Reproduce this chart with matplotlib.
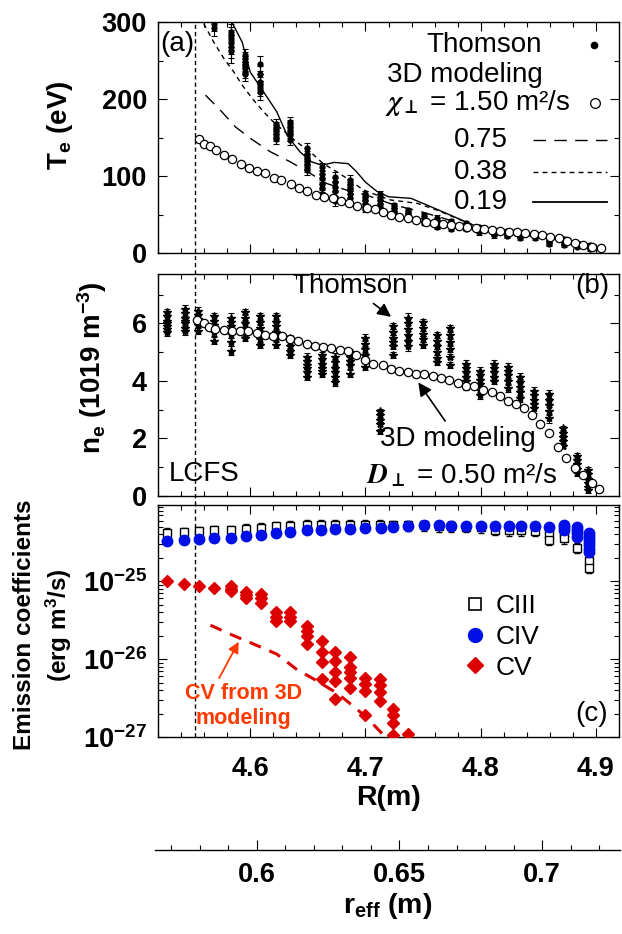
import matplotlib
matplotlib.use('Agg')
import matplotlib.pyplot as plt
import matplotlib.transforms as mtransforms
from matplotlib.lines import Line2D
from matplotlib.ticker import MultipleLocator, LogLocator, NullFormatter, FixedLocator

plt.rcParams['font.family'] = ['Liberation Sans', 'DejaVu Sans']
plt.rcParams['font.weight'] = 'bold'
plt.rcParams['axes.labelweight'] = 'bold'
plt.rcParams['mathtext.fontset'] = 'custom'
plt.rcParams['mathtext.rm'] = 'Liberation Sans:bold'
plt.rcParams['mathtext.bf'] = 'Liberation Sans:bold'
plt.rcParams['mathtext.it'] = 'Liberation Sans:italic:bold'
plt.rcParams['axes.linewidth'] = 1.0

TickSize = 19.5
LabelSize = 20
TextSize = 20

BLUE = '#0010e6'
RED = '#dd0000'
ORANGE = '#ff3a00'

R_LCFS = 4.552

# ---------------- (a) electron temperature ----------------
te_R = [4.569, 4.583, 4.5957, 4.6086, 4.6225, 4.6345, 4.649, 4.6627, 4.674,
        4.687, 4.700, 4.713, 4.7245, 4.737, 4.751, 4.7625, 4.774, 4.787,
        4.7985, 4.8115, 4.823, 4.8345, 4.8474, 4.859, 4.872, 4.8834, 4.8949]
te_pts = [[298, 292],
          [287, 283, 279, 274, 268, 262],
          [257, 253, 248, 244, 240, 235, 232],
          [246, 233, 222, 218, 214, 209],
          [168, 164, 160, 155, 151, 148],
          [170, 166, 162, 157, 153, 147],
          [136, 129, 125, 121, 116, 112, 108],
          [112, 103, 97, 90, 84, 77],
          [99, 92, 86, 80, 73, 67],
          [95, 90, 86, 82, 77, 71],
          [77, 73, 69, 64, 60, 57],
          [77, 73, 69, 64, 60],
          [62, 58, 55, 52],
          [56, 52, 49, 46],
          [49, 45, 42, 39],
          [46, 42, 39, 36, 34],
          [41, 38, 35, 31],
          [39, 36, 33, 31],
          [34, 31, 29, 27],
          [30, 27, 25, 23],
          [28, 26, 24, 22],
          [26, 24, 22, 20],
          [24, 22, 20],
          [19, 16, 14, 12],
          [18, 15, 13, 11],
          [13, 11, 9, 8],
          [11, 9, 7, 5]]
te_err = [10, 15, 8, 10, 6, 7, 7, 5, 6, 6, 4, 4, 3, 3, 3, 3, 3, 3,
          3, 3, 3, 3, 3, 3, 3, 2, 2]

# 3D modeling, chi_perp = 1.50 m2/s
mod150_R = [4.556, 4.560, 4.565, 4.570, 4.577, 4.584, 4.592, 4.599, 4.606, 4.613,
            4.621, 4.627, 4.635, 4.642, 4.649, 4.657, 4.664, 4.672, 4.679, 4.686,
            4.693, 4.701, 4.708, 4.715, 4.722, 4.7295, 4.7367, 4.744, 4.7525, 4.7597,
            4.767, 4.774, 4.781, 4.788, 4.7956, 4.803, 4.810, 4.817, 4.8245, 4.8316,
            4.8388, 4.846, 4.853, 4.860, 4.8676, 4.875, 4.882, 4.889, 4.8963, 4.904]
mod150_T = [148, 142, 139, 134, 127, 122, 115, 110, 106.5, 103.5,
            98, 95, 90, 85, 80, 75, 73, 71, 67.5, 64.5,
            61.5, 59, 57, 53.5, 49.5, 47, 45, 43, 40.7, 39.4,
            37.7, 36.4, 35, 33.8, 32, 30.8, 30, 29, 27.7, 26.8,
            25.5, 24.2, 23, 20.8, 19, 16, 13.4, 10.4, 8.2, 6]

mod075_R = [4.5612, 4.574, 4.587, 4.600, 4.6173, 4.6345, 4.652, 4.666, 4.6834,
            4.7007, 4.725, 4.748, 4.768, 4.7856, 4.800, 4.830, 4.870, 4.900]
mod075_T = [205, 185.7, 164, 149, 131.6, 118.6, 103.5, 90.5, 81.8,
            75.3, 62.3, 53.7, 45, 36.4, 31, 25, 17, 8]

mod038_R = [4.5597, 4.5683, 4.577, 4.5856, 4.594, 4.6029, 4.6115, 4.620, 4.630,
            4.640, 4.652, 4.663, 4.675, 4.686, 4.698, 4.712, 4.722, 4.745, 4.762,
            4.7826, 4.800, 4.830, 4.870, 4.900]
mod038_T = [298, 274, 253, 235.5, 216, 198.7, 183.5, 170.5, 157.5,
            144.5, 131.6, 116.5, 105.6, 94.8, 82, 74, 68.8, 64.5, 55.8,
            42.9, 33, 25, 18, 8]

mod019_R = [4.583, 4.593, 4.600, 4.6115, 4.623, 4.632, 4.643, 4.653, 4.662,
            4.673, 4.685, 4.692, 4.700, 4.710, 4.720, 4.7395, 4.757, 4.777,
            4.797, 4.812, 4.843, 4.872, 4.900]
mod019_T = [303, 274, 235, 209.5, 183.5, 153, 131.6, 118.6, 114,
            117.7, 116, 106, 92, 80, 73, 71, 60, 47,
            34, 29, 24, 18, 8]

# ---------------- (b) electron density ----------------
ne_R = [4.528, 4.543, 4.555, 4.5683, 4.5833, 4.5957, 4.6086, 4.6225, 4.6345,
        4.649, 4.6624, 4.674, 4.6863, 4.6993, 4.7128, 4.7237, 4.7373, 4.7502,
        4.7625, 4.7735, 4.787, 4.7994, 4.8115, 4.8238, 4.8345, 4.846, 4.859,
        4.8713, 4.8834, 4.8935]
ne_pts = [[6.4, 6.25, 6.1, 6.0, 5.9, 5.8, 5.7],
          [6.5, 6.35, 6.2, 6.1, 6.0, 5.85, 5.75],
          [6.45, 6.3, 6.15, 6.05, 5.95, 5.75],
          [6.25, 6.1, 5.95, 5.85, 5.7, 5.4],
          [6.2, 6.05, 5.9, 5.8, 5.65, 5.35, 5.05],
          [6.4, 6.2, 6.0, 5.85, 5.7, 5.5],
          [6.25, 6.05, 5.85, 5.65, 5.45, 5.25],
          [6.25, 6.05, 5.9, 5.7, 5.5, 5.25],
          [5.5, 5.35, 5.2, 5.05, 4.9],
          [4.85, 4.7, 4.55, 4.45, 4.3, 4.15],
          [4.9, 4.75, 4.6, 4.45, 4.35, 4.25],
          [4.85, 4.65, 4.45, 4.3, 4.15, 3.95],
          [5.0, 4.85, 4.7, 4.55, 4.25],
          [5.5, 5.3, 5.1, 4.9, 4.75, 4.5],
          [2.95, 2.8, 2.65, 2.5, 2.25],
          [5.9, 5.7, 5.5, 5.35, 5.2, 4.9],
          [6.2, 6.0, 5.8, 5.6, 5.4, 5.2],
          [6.05, 5.85, 5.65, 5.45, 5.25],
          [5.6, 5.4, 5.2, 5.0, 4.8, 4.65],
          [5.85, 5.6, 5.35, 5.1, 4.85, 4.55],
          [4.6, 4.45, 4.3, 4.15, 4.0, 3.8],
          [4.35, 4.2, 4.05, 3.9, 3.7, 3.5],
          [4.6, 4.45, 4.3, 4.15, 4.0],
          [4.5, 4.35, 4.2, 4.0, 3.75],
          [4.15, 3.95, 3.8, 3.6, 3.4],
          [3.65, 3.5, 3.35, 3.2, 3.05],
          [3.55, 3.35, 3.15, 2.95, 2.7],
          [2.35, 2.2, 2.05, 1.9, 1.75],
          [1.4, 1.25, 1.1, 0.95, 0.8],
          [0.9, 0.75, 0.6, 0.45, 0.3, 0.2]]
ne_err = [0.12, 0.15, 0.12, 0.12, 0.15, 0.12, 0.12, 0.12, 0.1, 0.12,
          0.12, 0.12, 0.12, 0.12, 0.08, 0.1, 0.15, 0.1, 0.1, 0.1,
          0.12, 0.12, 0.12, 0.12, 0.12, 0.15, 0.15, 0.08, 0.1, 0.1]

# 3D modeling, D_perp = 0.50 m2/s
modne_R = [4.554, 4.5597, 4.564, 4.5698, 4.577, 4.584, 4.5914, 4.5985, 4.6057, 4.613,
           4.620, 4.6273, 4.6345, 4.6417, 4.649, 4.656, 4.6633, 4.6705, 4.6777, 4.685,
           4.692, 4.6993, 4.7065, 4.715, 4.7222, 4.7295, 4.7367, 4.744, 4.751, 4.7582,
           4.7654, 4.7727, 4.780, 4.787, 4.7942, 4.8022, 4.810, 4.8167, 4.8236, 4.831,
           4.8374, 4.8446, 4.8517, 4.8595, 4.8667, 4.8742, 4.8814, 4.8886, 4.8963, 4.903]
modne_n = [6.13, 6.02, 5.88, 5.81, 5.76, 5.73, 5.73, 5.73, 5.67, 5.61,
           5.57, 5.55, 5.46, 5.38, 5.30, 5.23, 5.18, 5.13, 5.09, 5.03,
           4.91, 4.74, 4.60, 4.55, 4.42, 4.36, 4.30, 4.24, 4.24, 4.16,
           4.10, 4.04, 3.93, 3.84, 3.81, 3.69, 3.63, 3.49, 3.31, 3.19,
           3.06, 2.82, 2.51, 2.18, 1.72, 1.33, 0.99, 0.73, 0.44, 0.24]

# ---------------- (c) emission coefficients ----------------
ciii_R = [4.528, 4.5424, 4.556, 4.569, 4.5833, 4.5962, 4.6092, 4.6225, 4.6345, 4.649,
          4.661, 4.674, 4.6869, 4.700, 4.713, 4.7237, 4.7373, 4.751, 4.7634, 4.774,
          4.787, 4.800, 4.812, 4.8245, 4.835, 4.8474, 4.8595, 4.8595, 4.872, 4.872,
          4.8834, 4.894, 4.894]
ciii_val = [4.15e-25, 4.23e-25, 4.36e-25, 4.48e-25, 4.48e-25, 4.67e-25, 4.81e-25, 5.04e-25,
            5.14e-25, 5.30e-25, 5.30e-25, 5.30e-25, 5.30e-25, 5.30e-25, 5.30e-25, 5.2e-25,
            5.2e-25, 5.2e-25, 5.1e-25, 5.1e-25, 5.0e-25, 4.9e-25, 4.6e-25, 4.5e-25,
            4.5e-25, 4.45e-25, 4.0e-25, 3.4e-25, 4.2e-25, 3.55e-25, 2.7e-25, 1.8e-25, 1.48e-25]

civ_R = [4.528, 4.5424, 4.556, 4.569, 4.5833, 4.5962, 4.6092, 4.6225, 4.6345, 4.649,
         4.661, 4.674, 4.6869, 4.700, 4.7136, 4.7237, 4.7373, 4.751, 4.7634, 4.774,
         4.787, 4.800, 4.812, 4.8245, 4.835, 4.8474, 4.8595, 4.872, 4.872, 4.872,
         4.8834, 4.8834, 4.8834, 4.8834, 4.894, 4.894, 4.894, 4.894, 4.894, 4.894, 4.894]
civ_val = [3.31e-25, 3.41e-25, 3.51e-25, 3.58e-25, 3.58e-25, 3.76e-25, 3.86e-25, 4.15e-25,
           4.23e-25, 4.48e-25, 4.57e-25, 4.68e-25, 4.71e-25, 4.81e-25, 4.81e-25, 4.95e-25,
           5.14e-25, 5.19e-25, 5.19e-25, 5.14e-25, 5.14e-25, 5.14e-25, 5.14e-25, 5.04e-25,
           5.04e-25, 5.04e-25, 4.95e-25, 5.2e-25, 4.95e-25, 4.6e-25,
           4.9e-25, 4.5e-25, 4.1e-25, 3.7e-25,
           4.1e-25, 3.8e-25, 3.5e-25, 3.2e-25, 2.9e-25, 2.6e-25, 2.35e-25]

cv_R = [4.528, 4.5424, 4.556, 4.569, 4.5833, 4.5833, 4.5833, 4.5962, 4.5962, 4.5962,
        4.6092, 4.6092, 4.6092, 4.6225, 4.6225, 4.6225, 4.6345, 4.6345, 4.6345,
        4.649, 4.649, 4.649, 4.649, 4.6624, 4.6624, 4.6624, 4.6624,
        4.674, 4.674, 4.674, 4.674, 4.674, 4.6863, 4.6863, 4.6863, 4.6863, 4.6863,
        4.6993, 4.6993, 4.6993, 4.6993, 4.7128, 4.7128, 4.7128, 4.7128,
        4.7237, 4.7237, 4.7237, 4.7237, 4.7373]
cv_val = [1.0e-25, 9.3e-26, 8.7e-26, 8.2e-26, 8.7e-26, 8.0e-26, 7.4e-26, 7.2e-26, 6.6e-26, 6.0e-26,
          6.8e-26, 6.0e-26, 5.3e-26, 4.0e-26, 3.5e-26, 3.1e-26, 4.0e-26, 3.5e-26, 3.1e-26,
          2.66e-26, 2.29e-26, 2.0e-26, 1.55e-26, 1.71e-26, 1.24e-26, 9.1e-27, 5.6e-27,
          1.22e-26, 9.5e-27, 6.8e-27, 5.3e-27, 3.1e-27, 1.05e-26, 7.8e-27, 6.8e-27, 5.8e-27, 4.2e-27,
          5.8e-27, 4.8e-27, 3.9e-27, 1.9e-27, 5.6e-27, 4.6e-27, 3.8e-27, 2.9e-27,
          2.3e-27, 1.9e-27, 1.5e-27, 1.05e-27, 1.1e-27]

# CV from the 3D modeling
cvmod_R = [4.5655, 4.5856, 4.600, 4.623, 4.6402, 4.6575, 4.676, 4.6892, 4.7007, 4.7122, 4.720]
cvmod_val = [2.72e-26, 2.0e-26, 1.63e-26, 1.16e-26, 7.4e-27, 5.3e-27, 3.6e-27, 2.5e-27,
             1.8e-27, 1.2e-27, 8.9e-28]

R_ticks = [4.6, 4.7, 4.8, 4.9]
reff_ticks = [0.6, 0.65, 0.7]

#%%

fig = plt.figure(figsize=(6.22, 9.34), dpi=100)
W, H = 622.0, 934.0
L, Rgt = 158, 619

def box(top, bot):
    return [L / W, 1 - bot / H, (Rgt - L) / W, (bot - top) / H]

axA = fig.add_axes(box(22, 253))
axB = fig.add_axes(box(274, 496))
axC = fig.add_axes(box(505, 737))

for ax in (axA, axB, axC):
    ax.set_xlim(4.52, 4.92)
    ax.xaxis.set_major_locator(FixedLocator(R_ticks))
    ax.xaxis.set_minor_locator(MultipleLocator(0.02))
    ax.tick_params(which='both', direction='in', top=True, right=True,
                   width=0.8, labelsize=TickSize)
    ax.tick_params(which='major', length=6.5, pad=8)
    ax.tick_params(which='minor', length=3.5)

axA.tick_params(labelbottom=False)
axB.tick_params(labelbottom=False)
axC.tick_params(axis='x', which='major', pad=14)

# separatrix through all panels
for ax, extra in ((axA, 21 / 231), (axB, 9 / 222), (axC, 0)):
    ax.axvline(R_LCFS, ymin=-extra, ymax=1, color='k', lw=1.0,
               dashes=(3, 2.2), clip_on=False, zorder=1)

# --- (a)
for R, vals, err in zip(te_R, te_pts, te_err):
    axA.errorbar([R] * len(vals), vals, yerr=err, fmt='o', ms=3.5, color='k',
                 elinewidth=0.8, capsize=2.5, capthick=0.8, zorder=3)
axA.plot(mod019_R, mod019_T, '-', color='k', lw=1.0, zorder=2)
axA.plot(mod038_R, mod038_T, color='k', lw=1.0, dashes=(3.5, 3), zorder=2)
axA.plot(mod075_R, mod075_T, color='k', lw=1.0, dashes=(9, 6), zorder=2)
axA.plot(mod150_R, mod150_T, 'o', ms=6, mfc='white', mec='k', mew=0.9, zorder=4)
axA.set_ylim(0, 300)
axA.yaxis.set_major_locator(MultipleLocator(100))
axA.yaxis.set_minor_locator(MultipleLocator(50))
axA.set_ylabel(r'T$_\mathdefault{e}$ (eV)', fontsize=LabelSize, va='center')
axA.yaxis.set_label_coords(-0.2126, 0.554)

tA = axA.transAxes
axA.text(0.004, 0.905, '(a)', transform=tA, ha='left', va='center',
         fontsize=TextSize, fontweight='normal')
axA.text(0.833, 0.900, 'Thomson', transform=tA, ha='right', va='center',
         fontsize=TextSize, fontweight='normal')
axA.text(0.835, 0.771, '3D modeling', transform=tA, ha='right', va='center',
         fontsize=TextSize, fontweight='normal')
axA.text(0.894, 0.649, r'$\chi_{\bot}$ = 1.50 m²/s', transform=tA,
         ha='right', va='center', fontsize=TextSize, fontweight='normal',
         math_fontfamily='stix')
for y, lab in ((0.489, '0.75'), (0.351, '0.38'), (0.221, '0.19')):
    axA.text(0.759, y, lab, transform=tA, ha='right', va='center',
             fontsize=TextSize, fontweight='normal')

# legend keys
axA.add_line(Line2D([0.946], [0.900], transform=tA, marker='o', ms=4.5, color='k', ls='none'))
axA.add_line(Line2D([0.948], [0.649], transform=tA, marker='o', ms=7, mfc='white',
                    mec='k', mew=0.9, ls='none'))
axA.add_line(Line2D([0.813, 0.974], [0.489, 0.489], transform=tA, color='k', lw=1.0,
                    dashes=(9, 6)))
axA.add_line(Line2D([0.813, 0.974], [0.351, 0.351], transform=tA, color='k', lw=1.0,
                    dashes=(3.5, 3)))
axA.add_line(Line2D([0.813, 0.974], [0.221, 0.221], transform=tA, color='k', lw=1.3))

# --- (b)
for R, vals, err in zip(ne_R, ne_pts, ne_err):
    axB.errorbar([R] * len(vals), vals, yerr=err, fmt='*', ms=6, color='k',
                 elinewidth=0.8, capsize=2.5, capthick=0.8, zorder=3)
axB.plot(modne_R, modne_n, 'o', ms=6, mfc='white', mec='k', mew=0.9, zorder=4)
axB.set_ylim(0, 7.72)
axB.yaxis.set_major_locator(MultipleLocator(2))
axB.yaxis.set_minor_locator(MultipleLocator(1))
axB.set_ylabel(r'n$_\mathdefault{e}$ (1019 m$^\mathdefault{-3}$)', fontsize=LabelSize,
               va='center')
axB.yaxis.set_label_coords(-0.143, 0.577)

arrow_k = dict(arrowstyle='-|>', color='k', lw=1.2, mutation_scale=20, shrinkA=2, shrinkB=0)
axB.annotate('Thomson', xy=(4.7222, 6.23), xytext=(4.687, 7.30), ha='center', va='center',
             fontsize=TextSize, fontweight='normal', arrowprops=arrow_k)
axB.annotate('3D modeling', xy=(4.7459, 3.95), xytext=(4.780, 1.98), ha='center', va='center',
             fontsize=TextSize, fontweight='normal', arrowprops=arrow_k)
axB.text(4.7833, 0.72, r'$D_{\bot}$ = 0.50 m²/s', ha='center', va='center',
         fontsize=TextSize, fontweight='normal', math_fontfamily='stix')
axB.text(4.5597, 0.78, 'LCFS', ha='center', va='center', fontsize=TextSize,
         fontweight='normal')
axB.text(0.98, 0.948, '(b)', transform=axB.transAxes, ha='right', va='center',
         fontsize=TextSize, fontweight='normal')

# --- (c)
axC.set_yscale('log')
axC.errorbar(ciii_R, ciii_val, yerr=[0.15 * v for v in ciii_val], fmt='s', ms=5.5,
             mfc='white', mec='k', mew=1.0, ecolor='k', elinewidth=0.8, capsize=2.5,
             capthick=0.8, zorder=2)
axC.plot(civ_R, civ_val, 'o', ms=7.5, color=BLUE, zorder=3)
axC.plot(cv_R, cv_val, 'D', ms=6.5, color=RED, zorder=3)
axC.plot(cvmod_R, cvmod_val, color=RED, lw=2.2, dashes=(4, 3), zorder=2)
axC.set_ylim(1e-27, 9.5e-25)
axC.yaxis.set_major_locator(LogLocator(base=10))
axC.yaxis.set_minor_locator(LogLocator(base=10, subs=range(2, 10)))
axC.yaxis.set_minor_formatter(NullFormatter())
axC.set_ylabel('Emission coefficients\n' + r'(erg m$^\mathdefault{3}$/s)', fontsize=17.5,
               va='center', linespacing=1.35)
axC.yaxis.set_label_coords(-0.249, 0.483)
axC.set_xlabel('R(m)', fontsize=20.5, va='center')
axC.xaxis.set_label_coords(0.5, -0.263)

axC.annotate('CV from 3D\nmodeling', xy=(4.590, 1.67e-26), xytext=(4.594, 2.5e-27),
             ha='center', va='center', fontsize=15.5, color=ORANGE, linespacing=1.2,
             arrowprops=dict(arrowstyle='-|>', color=ORANGE, lw=1.3, mutation_scale=16,
                             relpos=(0.27, 1.0), shrinkA=2, shrinkB=0))
axC.text(0.976, 0.101, '(c)', transform=axC.transAxes, ha='right', va='center',
         fontsize=TextSize, fontweight='normal')

keys = [Line2D([], [], marker='s', ls='none', ms=8, mfc='white', mec='k', mew=1.2),
        Line2D([], [], marker='o', ls='none', ms=10, color=BLUE),
        Line2D([], [], marker='D', ls='none', ms=8.5, color=RED)]
axC.legend(keys, ['CIII', 'CIV', 'CV'], loc='center left', bbox_to_anchor=(0.659, 0.431),
           frameon=False, prop={'size': 19, 'weight': 'normal'}, handlelength=1.0,
           handletextpad=0.3, labelspacing=0.25, borderpad=0, borderaxespad=0)

# --- r_eff axis
axR = fig.add_axes([155 / W, 1 - 850 / H, 465 / W, 0.0005])
axR.set_facecolor('none')
for s in ('top', 'left', 'right'):
    axR.spines[s].set_visible(False)
axR.yaxis.set_visible(False)
axR.set_xlim(0.5643, 0.7273)
axR.xaxis.set_major_locator(FixedLocator(reff_ticks))
axR.xaxis.set_minor_locator(MultipleLocator(0.01))
axR.set_xticklabels(['0.6', '0.65', '0.7'])
axR.tick_params(which='both', direction='in', width=0.8, labelsize=TickSize, pad=8.5)
axR.tick_params(which='major', length=7)
axR.tick_params(which='minor', length=3.5)
axR.set_xlabel(r'r$_\mathdefault{eff}$ (m)', fontsize=20.5, va='center')
axR.xaxis.set_label_coords(0.5, 1 - 906 / H,
                           transform=mtransforms.blended_transform_factory(axR.transAxes,
                                                                            fig.transFigure))

plt.savefig('out.png', dpi=100)
